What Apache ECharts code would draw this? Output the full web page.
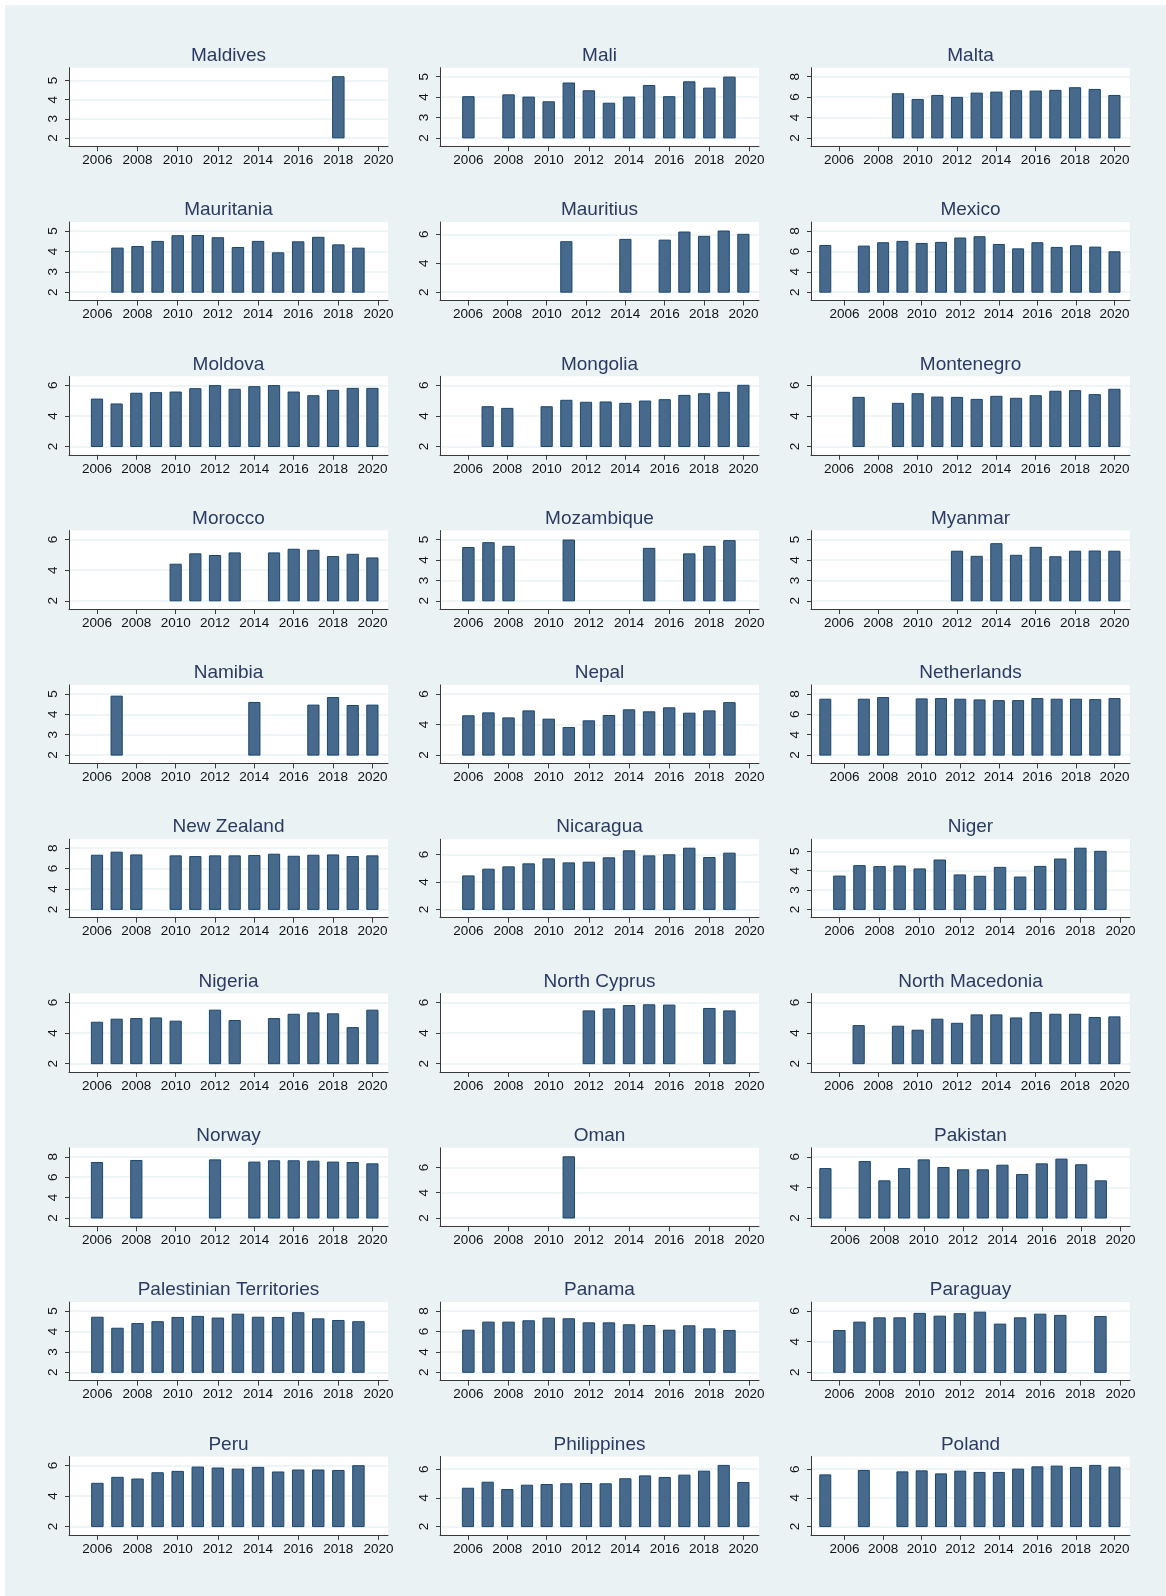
<!DOCTYPE html>
<html>
<head>
<meta charset="utf-8">
<script src="https://cdn.jsdelivr.net/npm/echarts@6/dist/echarts.min.js"></script>
<style>
html,body{margin:0;padding:0;background:#ffffff;}
#c{width:1166px;height:1596px;}
</style>
</head>
<body>
<div id="c"></div>
<script>
// ---- data (years 2005..2020, null = no survey) ----
const years = [2005,2006,2007,2008,2009,2010,2011,2012,2013,2014,2015,2016,2017,2018,2019,2020];
const xTicks = [2006,2008,2010,2012,2014,2016,2018,2020];
const ticks2to5 = [2,3,4,5];
const ticks2to6 = [2,4,6];
const ticks2to8 = [2,4,6,8];
const _ = null;

const maldives     = [_,_,_,_,_,_,_,_,_,_,_,_,_,5.2,_,_];
const mali         = [_,4.02,_,4.11,4.0,3.77,4.69,4.31,3.70,4.0,4.57,4.02,4.75,4.44,4.98,_];
const malta        = [_,_,_,_,6.33,5.77,6.16,5.97,6.39,6.49,6.62,6.59,6.66,6.92,6.75,6.16];
const mauritania   = [_,_,4.16,4.24,4.49,4.77,4.78,4.67,4.19,4.49,3.93,4.47,4.69,4.32,4.16,_];
const mauritius    = [_,_,_,_,_,_,5.49,_,_,5.65,_,5.60,6.16,5.86,6.23,6.0];
const mexico       = [6.58,_,6.52,6.85,6.98,6.78,6.88,7.31,7.44,6.68,6.25,6.85,6.39,6.55,6.42,5.96];
const moldova      = [_,5.10,4.78,5.48,5.52,5.56,5.78,5.98,5.74,5.91,5.98,5.56,5.32,5.67,5.80,5.80];
const mongolia     = [_,_,4.60,4.49,_,4.60,5.02,4.89,4.91,4.82,4.97,5.06,5.34,5.45,5.54,6.0];
const montenegro   = [_,_,5.21,_,4.82,5.45,5.23,5.21,5.08,5.28,5.15,5.32,5.61,5.65,5.39,5.74];
const morocco      = [_,_,_,_,_,4.39,5.07,4.96,5.13,_,5.13,5.37,5.30,4.89,5.04,4.80];
const mozambique   = [_,4.61,4.85,4.67,_,_,4.98,_,_,_,4.57,_,4.30,4.67,4.95,_];
const myanmar      = [_,_,_,_,_,_,_,4.43,4.18,4.80,4.23,4.62,4.16,4.43,4.44,4.43];
const namibia      = [_,_,4.89,_,_,_,_,_,_,4.58,_,_,4.45,4.82,4.43,4.45];
const nepal        = [_,4.57,4.76,4.43,4.89,4.35,3.80,4.24,4.59,4.96,4.83,5.09,4.74,4.89,5.43,_];
const netherlands  = [7.48,_,7.48,7.64,_,7.51,7.54,7.48,7.41,7.34,7.34,7.54,7.48,7.48,7.44,7.54];
const newZealand   = [_,7.31,7.61,7.34,_,7.25,7.18,7.25,7.25,7.28,7.41,7.21,7.31,7.34,7.18,7.25];
const nicaragua    = [_,4.44,4.93,5.10,5.32,5.68,5.39,5.44,5.76,6.27,5.90,5.98,6.46,5.78,6.10,_];
const niger        = [_,3.72,4.26,4.21,4.24,4.09,4.55,3.78,3.71,4.17,3.67,4.22,4.60,5.16,5.0,_];
const nigeria      = [_,4.71,4.91,4.95,4.99,4.78,_,5.50,4.82,_,4.95,5.23,5.32,5.26,4.36,5.50];
const northCyprus  = [_,_,_,_,_,_,_,5.45,5.58,5.80,5.85,5.83,_,5.61,5.45,_];
const northMacedonia = [_,_,4.49,_,4.45,4.19,4.91,4.64,5.19,5.19,4.99,5.34,5.23,5.23,5.02,5.06];
const norway       = [_,7.44,_,7.64,_,_,_,7.70,_,7.48,7.61,7.61,7.57,7.48,7.44,7.31];
const oman         = [_,_,_,_,_,_,6.84,_,_,_,_,_,_,_,_,_];
const pakistan     = [5.23,_,5.69,4.43,5.23,5.80,5.30,5.15,5.15,5.45,4.84,5.54,5.85,5.48,4.43,_];
const palestine    = [_,4.70,4.16,4.39,4.48,4.69,4.74,4.66,4.85,4.70,4.69,4.92,4.62,4.54,4.48,_];
const panama       = [_,6.13,6.92,6.92,7.05,7.31,7.25,6.85,6.85,6.66,6.59,6.13,6.56,6.26,6.10,_];
const paraguay     = [_,4.73,5.28,5.56,5.56,5.85,5.67,5.83,5.93,5.15,5.56,5.80,5.72,_,5.65,_];
const peru         = [_,4.83,5.22,5.11,5.52,5.61,5.89,5.83,5.76,5.87,5.57,5.70,5.70,5.67,5.98,_];
const philippines  = [_,4.67,5.09,4.58,4.88,4.93,4.98,5.00,4.98,5.33,5.53,5.42,5.58,5.86,6.26,5.07];
const poland       = [5.60,_,5.91,_,5.81,5.88,5.67,5.86,5.77,5.77,6.00,6.16,6.21,6.12,6.26,6.14];

const panels = [
  ["Maldives", maldives, ticks2to5], ["Mali", mali, ticks2to5], ["Malta", malta, ticks2to8],
  ["Mauritania", mauritania, ticks2to5], ["Mauritius", mauritius, ticks2to6], ["Mexico", mexico, ticks2to8],
  ["Moldova", moldova, ticks2to6], ["Mongolia", mongolia, ticks2to6], ["Montenegro", montenegro, ticks2to6],
  ["Morocco", morocco, ticks2to6], ["Mozambique", mozambique, ticks2to5], ["Myanmar", myanmar, ticks2to5],
  ["Namibia", namibia, ticks2to5], ["Nepal", nepal, ticks2to6], ["Netherlands", netherlands, ticks2to8],
  ["New Zealand", newZealand, ticks2to8], ["Nicaragua", nicaragua, ticks2to6], ["Niger", niger, ticks2to5],
  ["Nigeria", nigeria, ticks2to6], ["North Cyprus", northCyprus, ticks2to6], ["North Macedonia", northMacedonia, ticks2to6],
  ["Norway", norway, ticks2to8], ["Oman", oman, ticks2to6], ["Pakistan", pakistan, ticks2to6],
  ["Palestinian Territories", palestine, ticks2to5], ["Panama", panama, ticks2to8], ["Paraguay", paraguay, ticks2to6],
  ["Peru", peru, ticks2to6], ["Philippines", philippines, ticks2to6], ["Poland", poland, ticks2to6]
];

// ---- layout / style ----
const COL_LEFT = [69, 440, 811];
const PW = 319, PH = 78.5;
const ROW_TOP0 = 67.7, PITCH = 154.3;
const ML = 8.3, MR = 9.5, MB = 8.3, MT = 9.0;
const BAR_HALF = 0.285, BAR_BASE = 2;
const FILL = '#476a8c', EDGE = '#1a476f';
const BG = '#eaf2f3';
const FONT = "'Liberation Sans', Arial, Helvetica, sans-serif";

function renderBar(params, api) {
  const x = api.value(0), v = api.value(1);
  const a = api.coord([x - BAR_HALF, v]);
  const b = api.coord([x + BAR_HALF, BAR_BASE]);
  return {
    type: 'rect',
    shape: { x: a[0], y: a[1], width: b[0] - a[0], height: b[1] - a[1] },
    style: { fill: FILL, stroke: EDGE, lineWidth: 1 }
  };
}

const grids = [], xAxes = [], yAxes = [], series = [];
const graphics = [{
  type: 'rect', z: -10, silent: true,
  shape: { x: 5, y: 5, width: 1166 - 5, height: 1596 - 5 },
  style: { fill: BG }
}];

panels.forEach((p, i) => {
  const name = p[0], vals = p[1], ticks = p[2];
  const col = i % 3, row = Math.floor(i / 3);
  const left = COL_LEFT[col], top = ROW_TOP0 + row * PITCH;
  const pts = [];
  years.forEach((y, k) => { if (vals[k] !== null) pts.push([y, vals[k]]); });
  const yrs = pts.map(d => d[0]);
  const lo = Math.min(2005, Math.min(...yrs) - 0.31);
  const hi = Math.max(2020, Math.max(...yrs) + 0.31);
  const ppy = (PW - ML - MR) / (hi - lo);
  const vmax = Math.max(ticks[ticks.length - 1], ...pts.map(d => d[1]));
  const ppu = (PH - MB - MT) / (vmax - 2);

  grids.push({ left: left, top: top, width: PW, height: PH, show: true,
    backgroundColor: '#ffffff', borderWidth: 0 });
  xAxes.push({
    type: 'value', gridIndex: i, position: 'bottom',
    min: lo - ML / ppy, max: hi + MR / ppy,
    axisLine: { show: true, onZero: false, lineStyle: { color: '#3a3a3a', width: 1 } },
    axisTick: { show: true, customValues: xTicks, length: 5, lineStyle: { color: '#3a3a3a', width: 1 } },
    axisLabel: { customValues: xTicks, margin: 7, color: '#111', fontSize: 13.5, fontFamily: FONT,
      formatter: v => String(v) },
    splitLine: { show: false }
  });
  yAxes.push({
    type: 'value', gridIndex: i, position: 'left',
    min: 2 - MB / ppu, max: vmax + MT / ppu,
    axisLine: { show: true, onZero: false, lineStyle: { color: '#3a3a3a', width: 1 } },
    axisTick: { show: true, customValues: ticks, length: 4, lineStyle: { color: '#3a3a3a', width: 1 } },
    axisLabel: { customValues: ticks, rotate: 90, margin: 9, color: '#111', fontSize: 13.5, fontFamily: FONT,
      formatter: v => String(v) },
    splitLine: { show: true, lineStyle: { color: BG, width: 1.5 } }
  });
  series.push({ type: 'custom', name: name, xAxisIndex: i, yAxisIndex: i, data: pts,
    renderItem: renderBar, silent: true, animation: false });
  graphics.push({
    type: 'text', x: left + PW / 2, y: top - 12, silent: true,
    style: { text: name, align: 'center', verticalAlign: 'middle',
      fontSize: 19, fontFamily: FONT, fill: '#2a3a64' }
  });
});

const chart = echarts.init(document.getElementById('c'), null, { renderer: 'canvas', width: 1166, height: 1596 });
chart.setOption({
  animation: false,
  backgroundColor: '#ffffff',
  grid: grids, xAxis: xAxes, yAxis: yAxes, series: series,
  graphic: graphics
});
</script>
</body>
</html>
